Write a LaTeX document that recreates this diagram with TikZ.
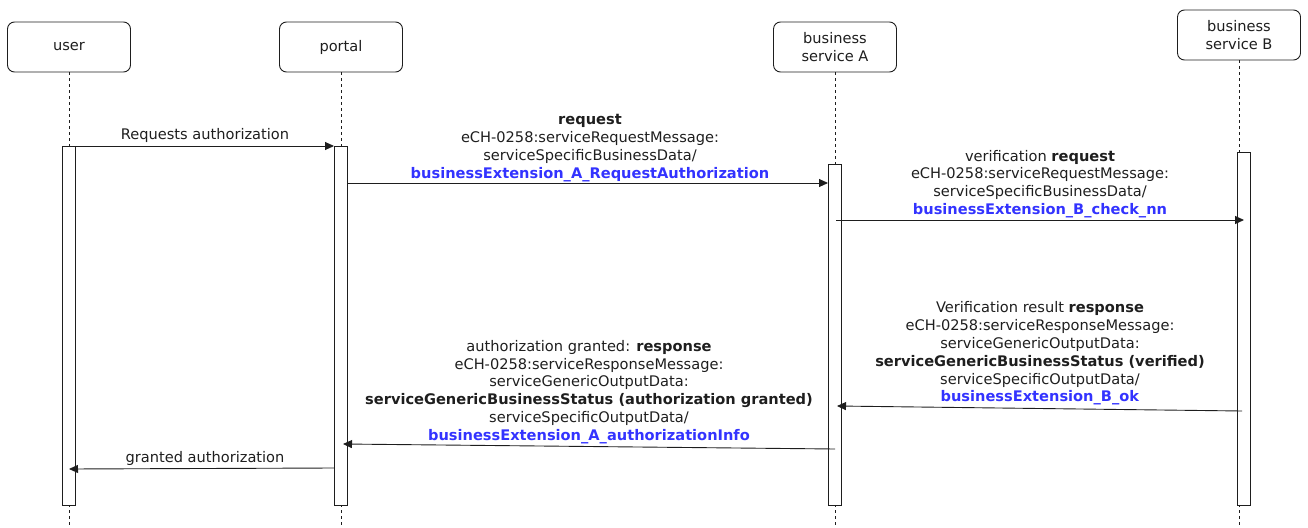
\documentclass[tikz,border=0pt]{standalone}
\usepackage{fontspec}
\setmainfont{DejaVu Sans}
\usetikzlibrary{arrows.meta}
\definecolor{ink}{RGB}{30,30,30}
\definecolor{linkblue}{RGB}{51,51,255}
\tikzset{
  actor/.style={draw=ink, line width=0.9pt, rounded corners=7pt, minimum width=123pt, minimum height=50pt, align=center, inner sep=0pt, font=\fontsize{14.6}{17.5}\selectfont, text=ink},
  bar/.style={draw=ink, line width=0.9pt, fill=white, minimum width=13.5pt, inner sep=0pt},
  life/.style={draw=ink, line width=0.8pt, dash pattern=on 3pt off 3pt},
  msg/.style={draw=ink, line width=0.9pt, -{Triangle[length=9pt,width=8pt]}},
  lbl/.style={align=center, text=ink, font=\fontsize{14.6}{17.8}\selectfont, inner sep=0pt},
}
\newcommand{\bx}[1]{\textcolor{linkblue}{\textbf{#1}}}
\begin{document}
\begin{tikzpicture}[x=1pt,y=-1pt]
\useasboundingbox (0,0) rectangle (1308,527);
% actors
\node[actor] (user) at (69,47) {user};
\node[actor] (portal) at (341,47) {portal};
\node[actor] (bsA) at (835,47) {business\\service A};
\node[actor] (bsB) at (1239,35) {business\\service B};
% lifelines
\coordinate (userEnd) at (69,527);
\coordinate (portalEnd) at (341,527);
\coordinate (bsAEnd) at (835,527);
\coordinate (bsBEnd) at (1244,527);
\draw[life] (user.south) -- (userEnd);
\draw[life] (portal.south) -- (portalEnd);
\draw[life] (bsA.south) -- (bsAEnd);
\draw[life] (bsB.south) -- (bsB.south |- bsBEnd);
% activation bars
\node[bar, minimum height=359pt, anchor=north] (userBar) at (69,146) {};
\node[bar, minimum height=359pt, anchor=north] (portalBar) at (341,146) {};
\node[bar, minimum height=341pt, anchor=north] (bsABar) at (835,164) {};
\node[bar, minimum height=353pt, anchor=north] (bsBBar) at (1244,152) {};
% message end points
\coordinate (m1s) at (76,146);   \coordinate (m1e) at (334,146);
\coordinate (m2s) at (348,183);  \coordinate (m2e) at (828,183);
\coordinate (m3s) at (836,220);  \coordinate (m3e) at (1244,220);
\coordinate (m4s) at (1242,411); \coordinate (m4e) at (837,406);
\coordinate (m5s) at (835,449);  \coordinate (m5e) at (343,444);
\coordinate (m6s) at (334,468);  \coordinate (m6e) at (69,469);
\draw[msg] (m1s) -- (m1e);
\draw[msg] (m2s) -- (m2e);
\draw[msg] (m3s) -- (m3e);
\draw[msg] (m4s) -- (m4e);
\draw[msg] (m5s) -- (m5e);
\draw[msg] (m6s) -- (m6e);
% labels
\node[lbl] (l1) at (205,135) {Requests authorization};
\node[lbl] (l2) at (590,148) {\textbf{request}\\eCH-0258:serviceRequestMessage:\\serviceSpecificBusinessData/\\\bx{businessExtension\_A\_RequestAuthorization}};
\node[lbl] (l3) at (1040,184) {verification \textbf{request}\\eCH-0258:serviceRequestMessage:\\serviceSpecificBusinessData/\\\bx{businessExtension\_B\_check\_nn}};
\node[lbl] (l4) at (1040,353.5) {Verification result \textbf{response}\\eCH-0258:serviceResponseMessage:\\serviceGenericOutputData:\\\textbf{serviceGenericBusinessStatus (verified)}\\serviceSpecificOutputData/\\\bx{businessExtension\_B\_ok}};
\node[lbl] (l5) at (589,392) {authorization granted: \textbf{response}\\eCH-0258:serviceResponseMessage:\\serviceGenericOutputData:\\\textbf{serviceGenericBusinessStatus (authorization granted)}\\serviceSpecificOutputData/\\\bx{businessExtension\_A\_authorizationInfo}};
\node[lbl] (l6) at (205,458) {granted authorization};
\end{tikzpicture}
\end{document}
